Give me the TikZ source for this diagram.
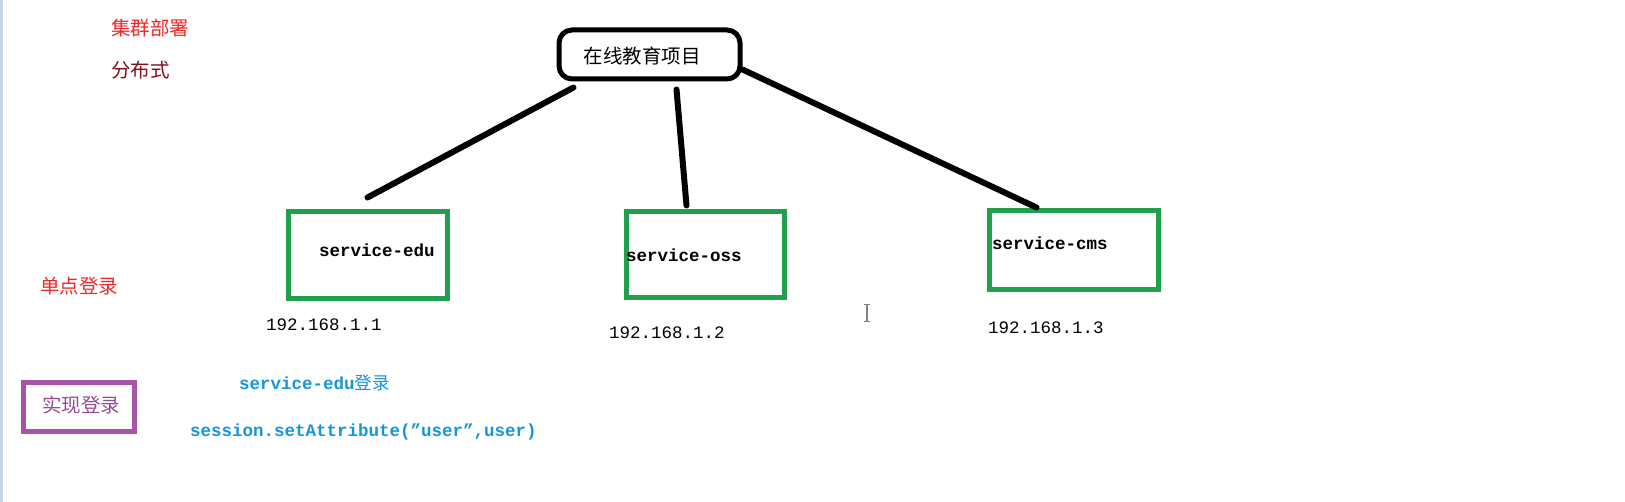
\documentclass[tikz,border=0pt]{standalone}
\usepackage{fontspec}
\newfontfamily\cjk{Noto Sans CJK SC}
\newfontfamily\mono{Liberation Mono}
\definecolor{cred}{RGB}{240,40,40}
\definecolor{cdred}{RGB}{130,12,30}
\definecolor{cgreen}{RGB}{32,160,76}
\definecolor{cpurple}{RGB}{165,85,165}
\definecolor{cblue}{RGB}{20,150,220}
\definecolor{cedge}{RGB}{200,212,230}
\tikzset{
  cjktext/.style={inner sep=0pt, anchor=west, font=\cjk\fontsize{19.5}{22}\selectfont},
  monotext/.style={inner sep=0pt, anchor=west, font=\mono\bfseries\fontsize{17.5}{20}\selectfont},
  svcbox/.style={draw=cgreen, line width=5pt, inner sep=0pt, anchor=north west},
  link/.style={line width=6pt, line cap=round},
}
\begin{document}
\begin{tikzpicture}[x=1pt,y=-1pt]
\useasboundingbox (0,0) rectangle (1625,502);
\fill[white] (0,0) rectangle (1625,502);
\fill[cedge] (0,0) rectangle (3,502);

\node[cjktext, text=cred] (t1) at (111,28) {集群部署};
\node[cjktext, text=cdred] (t2) at (111,70) {分布式};
\node[cjktext, text=cred] (t3) at (40,286) {单点登录};

% top node
\node[draw=black, line width=5pt, rounded corners=13pt, minimum width=181pt, minimum height=49pt, inner sep=0pt] (top) at (649.5,54.5) {};
\node[cjktext, anchor=center] (toptxt) at (642,56) {在线教育项目};

% service boxes
\node[svcbox, minimum width=159pt, minimum height=87pt] (edu) at (285.5,209.5) {};
\node[svcbox, minimum width=158pt, minimum height=86pt] (oss) at (623.5,209.5) {};
\node[svcbox, minimum width=169pt, minimum height=79pt] (cms) at (986.5,208.5) {};

\node[monotext] (edut) at (319,250) {service-edu};
\node[monotext] (osst) at (626,255) {service-oss};
\node[monotext] (cmst) at (992,243) {service-cms};

\node[monotext, font=\mono\fontsize{17.5}{20}\selectfont] (ip1) at (266,325) {192.168.1.1};
\node[monotext, font=\mono\fontsize{17.5}{20}\selectfont] (ip2) at (609,333) {192.168.1.2};
\node[monotext, font=\mono\fontsize{17.5}{20}\selectfont] (ip3) at (988,328) {192.168.1.3};

% connectors
\coordinate (a1) at ([xshift=17pt,yshift=-6pt]top.south west);
\coordinate (b1) at ([xshift=82pt,yshift=12pt]edu.north west);
\coordinate (a2) at ([xshift=120pt,yshift=-8pt]top.south west);
\coordinate (b2) at ([xshift=63pt,yshift=4pt]oss.north west);
\coordinate (a3) at ([yshift=-15pt]top.east);
\coordinate (b3) at ([xshift=50pt,yshift=1pt]cms.north west);
\draw[link] (a1) -- (b1);
\draw[link] (a2) -- (b2);
\draw[link] (a3) -- (b3);

% text cursor
\draw[gray, line width=1.2pt] (867,305) -- (867,322);
\draw[gray, line width=1pt] (864,305) -- (870,305) (864,322) -- (870,322);

% login box
\node[draw=cpurple, line width=5pt, minimum width=111pt, minimum height=48pt, inner sep=0pt, anchor=north west] (login) at (20.5,380.5) {};
\node[cjktext, text=cpurple!90!black] (logint) at (42,405) {实现登录};

\node[monotext, text=cblue] (s1) at (239,383) {service-edu{\cjk\mdseries 登录}};
\node[monotext, text=cblue] (s2) at (190,432) {session.setAttribute(”user”,user)};
\end{tikzpicture}
\end{document}
